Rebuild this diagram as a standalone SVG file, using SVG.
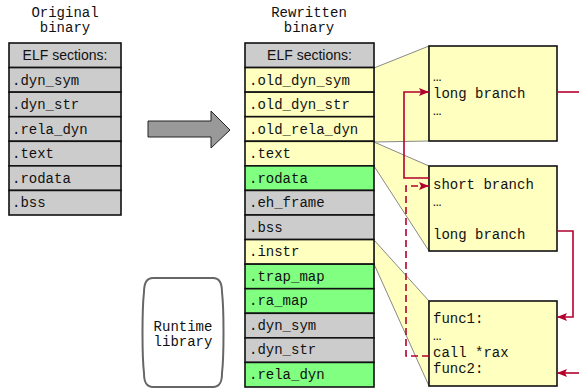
<svg xmlns="http://www.w3.org/2000/svg" width="579" height="389" viewBox="0 0 579 389">
  <defs>
    <marker id="arr" viewBox="0 0 10 8" refX="10" refY="4" markerWidth="10" markerHeight="8" markerUnits="userSpaceOnUse" orient="auto">
      <path d="M0,0 L10,4 L0,8 L2,4 Z" fill="#b3002d"/>
    </marker>
  </defs>
  <style>
    .mono { font-family: "Liberation Mono", "Courier New", monospace; font-size: 14px; fill: #111; }
    .sans { font-family: "Liberation Sans", Arial, sans-serif; font-size: 14px; fill: #111; }
    .cell { stroke: #111; stroke-width: 1.6; }
    .gray { fill: #cccccc; }
    .yel { fill: #ffffc0; }
    .grn { fill: #80ff80; }
    .callout { fill: #ffffc0; stroke: #888; stroke-width: 1; }
    .box { fill: #ffffc0; stroke: #111; stroke-width: 1.6; }
    .red { fill: none; stroke: #b3002d; stroke-width: 1.6; }
    .dash { stroke-dasharray: 7 4; }
  </style>

  <rect width="579" height="389" fill="#fff"/>

  <!-- column titles -->
  <g id="title-original">
    <text class="mono" x="65" y="17" text-anchor="middle">Original</text>
    <text class="mono" x="65" y="32" text-anchor="middle">binary</text>
  </g>
  <g id="title-rewritten">
    <text class="mono" x="309" y="17" text-anchor="middle">Rewritten</text>
    <text class="mono" x="309" y="32" text-anchor="middle">binary</text>
  </g>

  <!-- callout wedges from sections to detail boxes -->
  <g id="callouts">
    <polygon class="callout" points="374,68 429,46 429,141 374,142"/>
    <polygon class="callout" points="374,142 429,166 429,251 374,166"/>
    <polygon class="callout" points="374,240 429,301 429,386 374,264"/>
  </g>

  <!-- original binary sections -->
  <g id="original-binary">
    <rect class="cell gray" x="9" y="43" width="112" height="24.57"/>
    <text class="sans" x="65" y="60" text-anchor="middle">ELF sections:</text>
    <rect class="cell gray" x="9" y="67.57" width="112" height="24.57"/>
    <text class="mono" x="12" y="84.5">.dyn_sym</text>
    <rect class="cell gray" x="9" y="92.14" width="112" height="24.57"/>
    <text class="mono" x="12" y="109">.dyn_str</text>
    <rect class="cell gray" x="9" y="116.71" width="112" height="24.57"/>
    <text class="mono" x="12" y="133.5">.rela_dyn</text>
    <rect class="cell gray" x="9" y="141.29" width="112" height="24.57"/>
    <text class="mono" x="12" y="158">.text</text>
    <rect class="cell gray" x="9" y="165.86" width="112" height="24.57"/>
    <text class="mono" x="12" y="182.5">.rodata</text>
    <rect class="cell gray" x="9" y="190.43" width="112" height="24.57"/>
    <text class="mono" x="12" y="207">.bss</text>
  </g>

  <!-- rewrite arrow -->
  <g id="rewrite-arrow">
    <polygon points="148,121 211,121 211,111 230,130 211,148 211,137 148,137" fill="#999" stroke="#222" stroke-width="1"/>
  </g>

  <!-- runtime library -->
  <g id="runtime-library">
    <path d="M153,278 L213,278 C220,278 222,284 222,292 C224,310 224,356 222,373 C222,382 220,387 213,387 L153,387 C146,387 144,382 144,373 C142,356 142,310 144,292 C144,284 146,278 153,278 Z" fill="#fff" stroke="#666" stroke-width="2"/>
    <text class="mono" x="183" y="331" text-anchor="middle">Runtime</text>
    <text class="mono" x="183" y="346" text-anchor="middle">library</text>
  </g>

  <!-- rewritten binary sections -->
  <g id="rewritten-binary">
    <rect class="cell gray" x="245" y="43" width="129" height="24.57"/>
    <text class="sans" x="309.5" y="60" text-anchor="middle">ELF sections:</text>
    <rect class="cell yel" x="245" y="67.57" width="129" height="24.57"/>
    <text class="mono" x="249" y="84.5">.old_dyn_sym</text>
    <rect class="cell yel" x="245" y="92.14" width="129" height="24.57"/>
    <text class="mono" x="249" y="109">.old_dyn_str</text>
    <rect class="cell yel" x="245" y="116.71" width="129" height="24.57"/>
    <text class="mono" x="249" y="133.5">.old_rela_dyn</text>
    <rect class="cell yel" x="245" y="141.29" width="129" height="24.57"/>
    <text class="mono" x="249" y="158">.text</text>
    <rect class="cell grn" x="245" y="165.86" width="129" height="24.57"/>
    <text class="mono" x="249" y="182.5">.rodata</text>
    <rect class="cell gray" x="245" y="190.43" width="129" height="24.57"/>
    <text class="mono" x="249" y="207">.eh_frame</text>
    <rect class="cell gray" x="245" y="215" width="129" height="24.57"/>
    <text class="mono" x="249" y="231.5">.bss</text>
    <rect class="cell yel" x="245" y="239.57" width="129" height="24.57"/>
    <text class="mono" x="249" y="256">.instr</text>
    <rect class="cell grn" x="245" y="264.14" width="129" height="24.57"/>
    <text class="mono" x="249" y="280.5">.trap_map</text>
    <rect class="cell grn" x="245" y="288.71" width="129" height="24.57"/>
    <text class="mono" x="249" y="305">.ra_map</text>
    <rect class="cell gray" x="245" y="313.29" width="129" height="24.57"/>
    <text class="mono" x="249" y="329.5">.dyn_sym</text>
    <rect class="cell gray" x="245" y="337.86" width="129" height="24.57"/>
    <text class="mono" x="249" y="354">.dyn_str</text>
    <rect class="cell grn" x="245" y="362.43" width="129" height="24.57"/>
    <text class="mono" x="249" y="379">.rela_dyn</text>
  </g>

  <!-- detail boxes -->
  <g id="box-old-sections">
    <rect class="box" x="429" y="46" width="128" height="95"/>
    <text class="mono" x="433" y="81">…</text>
    <text class="mono" x="433" y="98">long branch</text>
    <text class="mono" x="433" y="115">…</text>
  </g>
  <g id="box-text">
    <rect class="box" x="429" y="166" width="128" height="85"/>
    <text class="mono" x="433" y="189">short branch</text>
    <text class="mono" x="433" y="206">…</text>
    <text class="mono" x="433" y="239">long branch</text>
  </g>
  <g id="box-instr">
    <rect class="box" x="429" y="301" width="128" height="85"/>
    <text class="mono" x="433" y="323">func1:</text>
    <text class="mono" x="433" y="340">…</text>
    <text class="mono" x="433" y="357">call *rax</text>
    <text class="mono" x="433" y="373">func2:</text>
  </g>

  <!-- control-flow connectors -->
  <g id="connectors">
    <path class="red" d="M429,178 L404,178 L404,92 L429,92" marker-end="url(#arr)"/>
    <path class="red dash" d="M429,356 L406,356 L406,186 L429,186" marker-end="url(#arr)"/>
    <path class="red" d="M557,92 L579,92"/>
    <path class="red" d="M557,231 L573,231 L573,317 L557,317" marker-end="url(#arr)"/>
    <path class="red" d="M579,373 L557,373" marker-end="url(#arr)"/>
  </g>
</svg>
